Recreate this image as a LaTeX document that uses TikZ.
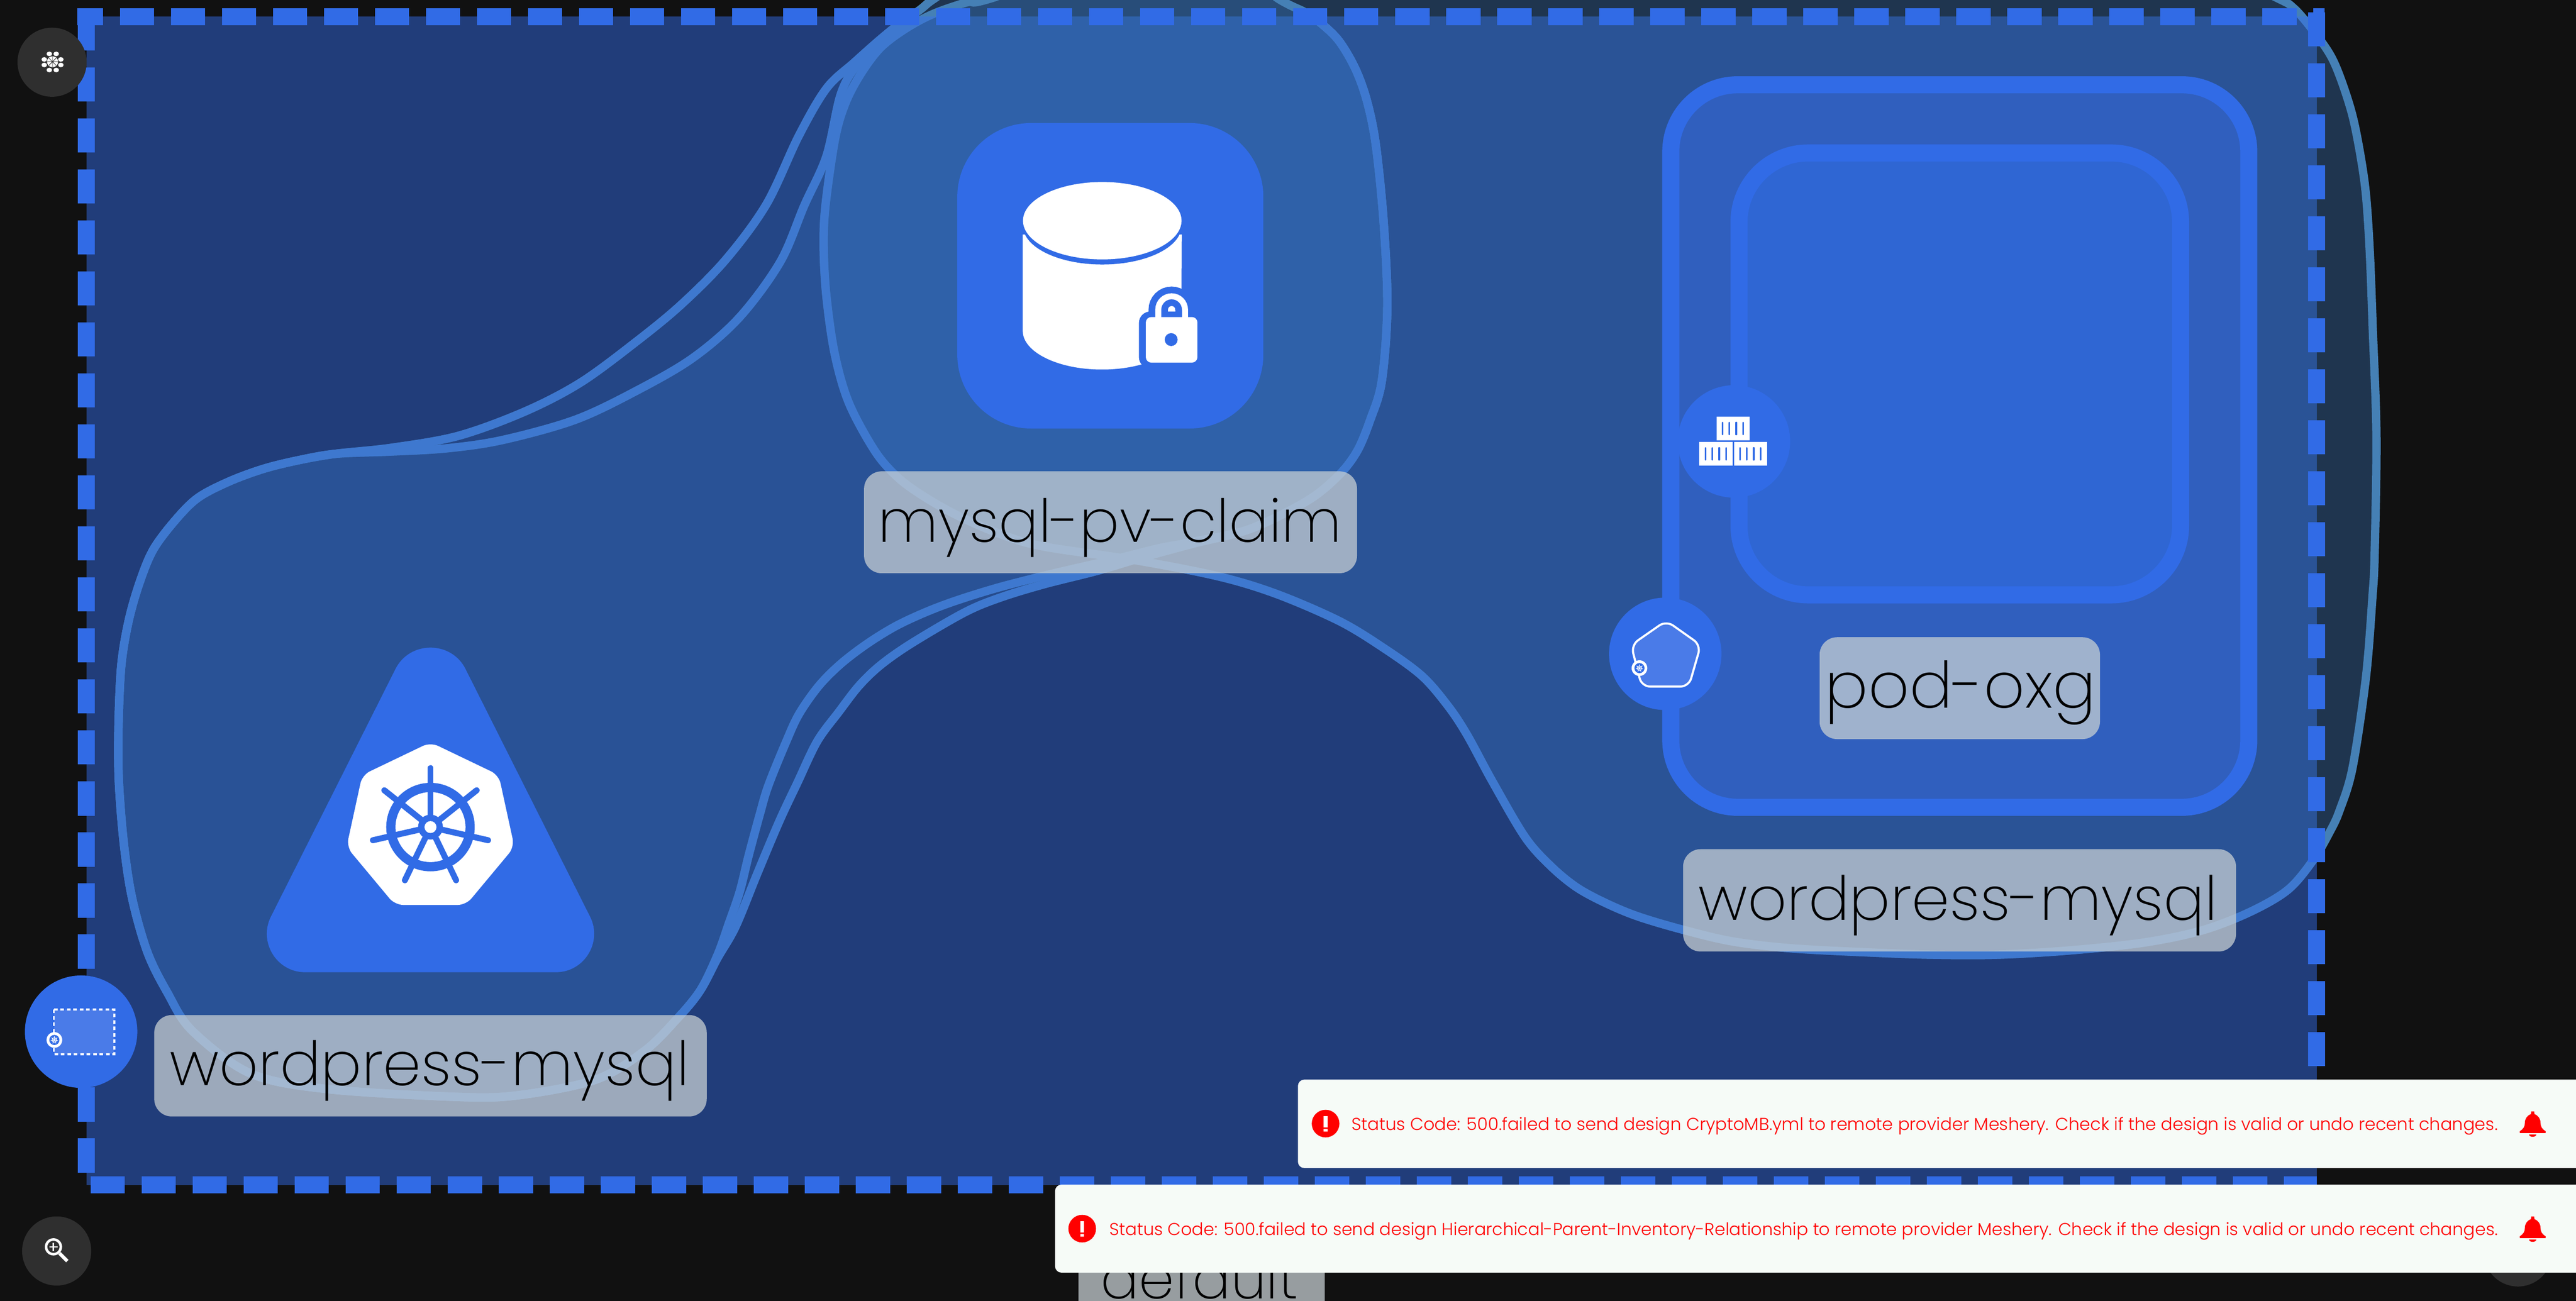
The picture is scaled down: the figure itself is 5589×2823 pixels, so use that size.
\documentclass[tikz,border=0pt]{standalone}
\usepackage{fontspec}
\usepackage{graphicx}
\newfontfamily\lblfont{Poppins ExtraLight}
\newfontfamily\toastfont{Poppins Light}
\definecolor{pagebg}{HTML}{111111}
\definecolor{nsfill}{HTML}{213D7A}
\definecolor{meshblue}{HTML}{316BE6}
\definecolor{blobfill}{HTML}{3D82D4}
\definecolor{blobin}{HTML}{3E78CF}
\definecolor{blobout}{HTML}{4580B5}
\definecolor{depfill}{HTML}{305FBE}
\definecolor{podfill}{HTML}{2F66D3}
\definecolor{lblfill}{HTML}{C7CFD3}
\definecolor{btn}{HTML}{2F2F2F}
\definecolor{toastbg}{HTML}{F6FBF7}
\definecolor{lighticon}{HTML}{4A7BE8}
\tikzset{
  sidedash/.style={draw=meshblue,line width=0.37cm,dash pattern=on 0.74cm off 0.366cm},
  blobline/.style={line width=0.18cm},
  lblbox/.style={draw=none,fill=lblfill,fill opacity=0.74,rectangle,rounded corners=0.38cm,inner sep=0pt},
  lbltext/.style={anchor=base,inner sep=0pt,text=black,font=\lblfont\fontsize{38pt}{40pt}\selectfont},
  toasttext/.style={anchor=base east,inner sep=0pt,text=red,font=\toastfont\fontsize{11pt}{13pt}\selectfont},
  toastbox/.style={fill=toastbg,rounded corners=0.14cm},
  nestbox/.style={draw=meshblue,line width=0.37cm},
  bellicon/.pic={
    \fill[red] (-3,-27) -- (3,-27) -- (4,-21) .. controls (12,-18) and (17,-11) .. (17,-2)
      .. controls (17,6) and (20,11) .. (28,16) -- (28,20) -- (-28,20) -- (-28,16)
      .. controls (-20,11) and (-17,6) .. (-17,-2) .. controls (-17,-11) and (-12,-18) .. (-4,-21) -- cycle;
    \fill[red] (-8,23) .. controls (-7,30) and (7,30) .. (8,23) -- cycle;
  },
  erricon/.pic={
    \fill[red] (0,0) circle [radius=30];
    \fill[white] (-4,-16) rectangle (4,8);
    \fill[white] (-4,12) rectangle (4,17);
  },
  kbadge/.pic={
    \fill[white] (0,0) circle [radius=17];
    \fill[meshblue] (0,0) circle [radius=11];
    \foreach \a in {-90,-38.6,12.9,64.3,115.7,167.1,218.6}
      \draw[white,line width=0.012cm] (0,0) -- (\a:8);
    \draw[white,line width=0.012cm] (0,0) circle [radius=5];
  },
  stackbox/.pic={
    \fill[white] (0,0) rectangle (72,52);
    \foreach \d in {13,28,43,58}
      \draw[meshblue,line width=0.035cm,line cap=round] (\d,13) -- (\d,39);
  }
}
\def\blobA{plot[smooth cycle,tension=0.55] coordinates {(2030,-5)(1995,22)(1926,72)(1854,135)(1793,192)(1733,295)(1663,443)(1575,563)(1478,661)(1381,741)(1260,830)(1139,893)(994,946)(848,972)(727,985)(642,1000)(570,1018)(497,1045)(430,1080)(382,1127)(333,1192)(303,1264)(279,1348)(263,1446)(257,1582)(258,1698)(269,1834)(287,1951)(320,2067)(363,2154)(417,2237)(542,2329)(705,2363)(976,2380)(1116,2378)(1290,2344)(1398,2281)(1470,2210)(1519,2150)(1557,2072)(1581,2005)(1605,1935)(1624,1858)(1648,1769)(1667,1705)(1706,1609)(1734,1549)(1777,1488)(1825,1440)(1883,1396)(1945,1358)(2012,1327)(2079,1302)(2170,1274)(2280,1246)(2418,1214)(2514,1190)(2588,1176)(2712,1148)(2836,1087)(2903,1033)(2944,980)(2973,911)(2998,827)(3010,666)(3002,482)(2985,314)(2966,220)(2941,150)(2906,90)(2869,53)(2832,27)(2778,0)(2650,-80)(2400,-110)(2150,-80)}}
\def\blobB{plot[smooth cycle,tension=0.55] coordinates {(2030,-5)(1995,22)(1926,72)(1860,140)(1824,205)(1793,339)(1745,446)(1693,568)(1605,688)(1503,777)(1381,848)(1248,911)(1090,955)(969,973)(848,980)(727,985)(642,1000)(570,1018)(497,1045)(430,1080)(382,1127)(333,1192)(303,1264)(279,1348)(263,1446)(257,1582)(258,1698)(269,1834)(287,1951)(320,2067)(363,2154)(417,2237)(542,2329)(705,2363)(976,2380)(1116,2378)(1290,2344)(1398,2281)(1470,2210)(1519,2150)(1557,2079)(1596,2011)(1643,1896)(1691,1782)(1730,1699)(1773,1609)(1820,1545)(1864,1488)(1911,1443)(1978,1396)(2093,1329)(2170,1297)(2265,1268)(2380,1239)(2471,1212)(2588,1180)(2712,1148)(2836,1087)(2903,1033)(2944,980)(2973,911)(2998,827)(3010,666)(3002,482)(2985,314)(2966,220)(2941,150)(2906,90)(2869,53)(2832,27)(2778,0)(2650,-80)(2400,-110)(2150,-80)}}
\def\blobC{plot[smooth cycle,tension=0.55] coordinates {(2155,-5)(2098,5)(2025,30)(1965,62)(1911,103)(1869,158)(1835,222)(1812,300)(1791,446)(1787,536)(1793,643)(1811,768)(1842,875)(1899,980)(1949,1037)(2007,1079)(2082,1121)(2173,1160)(2264,1186)(2471,1217)(2648,1252)(2772,1290)(2906,1348)(3000,1405)(3084,1466)(3140,1530)(3182,1593)(3238,1696)(3309,1817)(3365,1880)(3421,1926)(3484,1960)(3554,1989)(3652,2018)(3758,2043)(3884,2058)(4052,2067)(4193,2072)(4333,2072)(4487,2063)(4649,2046)(4775,2020)(4880,1980)(4964,1931)(5020,1865)(5055,1805)(5076,1759)(5104,1667)(5133,1472)(5147,1300)(5152,1206)(5156,947)(5148,714)(5141,536)(5131,402)(5110,277)(5089,201)(5061,129)(5026,76)(4977,18)(4929,-10)(4700,-120)(3600,-220)(2500,-120)}}
\begin{document}
\begin{tikzpicture}[x=0.01cm,y=-0.01cm]
\useasboundingbox (0,0) rectangle (5589,2823);
\clip (0,0) rectangle (5589,2823);
\fill[pagebg] (0,0) rectangle (5589,2823);
% namespace area
\fill[nsfill] (188,36) rectangle (5027,2572);
% bubble sets
\fill[blobfill,opacity=0.14] \blobA;
\fill[blobfill,opacity=0.21] \blobB;
\fill[blobfill,opacity=0.32] \blobC;
\draw[blobout,blobline] \blobA;
\draw[blobout,blobline] \blobB;
\draw[blobout,blobline] \blobC;
\begin{scope}
  \clip (188,36) rectangle (5027,2572);
  \draw[blobin,blobline] \blobA;
  \draw[blobin,blobline] \blobB;
  \draw[blobin,blobline] \blobC;
\end{scope}
% dashed border
\draw[sidedash,dash phase=0.18cm] (168,36.5) -- (5044,36.5);
\draw[sidedash] (187,36) -- (187,2571);
\draw[sidedash] (5026,27) -- (5026,2571);
\draw[sidedash] (197,2571) -- (5027,2571);
% deployment and pod boxes
\draw[nestbox,fill=depfill,rounded corners=1.45cm] (3625,184) rectangle (4879,1752);
\draw[nestbox,fill=podfill,rounded corners=1.5cm] (3773,332) rectangle (4731,1291);
% container circle
\fill[meshblue] (3762,958) circle [radius=122];
\pic at (3724,904) {stackbox};
\pic at (3687,959) {stackbox};
\pic at (3762,959) {stackbox};
% pod circle
\fill[meshblue] (3613,1419) circle [radius=122];
\draw[white,line width=0.045cm,fill=lighticon,rounded corners=0.18cm] (3615,1347) -- (3690,1400) -- (3664,1490) -- (3562,1490) -- (3539,1400) -- cycle;
\pic at (3557,1450) {kbadge};
% group circle
\fill[meshblue] (176,2239) circle [radius=122];
\draw[white,line width=0.04cm,fill=lighticon,dash pattern=on 0.08cm off 0.06cm] (117,2191) rectangle (248,2288);
\pic at (118,2257) {kbadge};
% PVC icon
\fill[meshblue,rounded corners=1.6cm] (2077,267) rectangle (2741,930);
\fill[white] (2219,509) -- (2219,718) arc [start angle=180,end angle=360,x radius=172,y radius=-84] -- (2564,509) -- cycle;
\begin{scope}
  \clip (2219,400) rectangle (2564,600);
  \fill[meshblue] (2391.5,490) ellipse [x radius=172,y radius=84];
\end{scope}
\fill[white] (2391.5,479) ellipse [x radius=172,y radius=84];
\fill[meshblue,rounded corners=0.25cm] (2471,676) rectangle (2612,800);
\draw[meshblue,line width=0.42cm] (2513,700) -- (2513,672) arc [start angle=180,end angle=360,x radius=29,y radius=29] -- (2571,700);
\fill[white,rounded corners=0.12cm] (2486,688) rectangle (2598,787);
\draw[white,line width=0.13cm] (2513,695) -- (2513,672) arc [start angle=180,end angle=360,x radius=29,y radius=29] -- (2571,695);
\fill[meshblue] (2541,737) circle [radius=14];
% deployment triangle
\fill[meshblue] (858,1452) .. controls (889,1390) and (979,1390) .. (1010,1452) -- (1280,1989) .. controls (1308,2044) and (1268,2110) .. (1206,2110) -- (662,2110) .. controls (600,2110) and (560,2044) .. (588,1989) -- cycle;
\fill[white,rounded corners=0.18cm] (934,1611) -- (1082,1682) -- (1116,1838) -- (1011,1964) -- (857,1964) -- (752,1838) -- (786,1682) -- cycle;
\begin{scope}[shift={(934,1795)}]
  \draw[meshblue,line width=0.2cm] (0,0) circle [radius=86];
  \foreach \a in {-90,-38.57,12.86,64.29,115.71,167.14,218.57}{
    \draw[meshblue,line width=0.13cm,line cap=round] (\a:20) -- (\a:128);
    \fill[meshblue] (\a-14:22) -- (\a:72) -- (\a+14:22) -- cycle;
  }
  \fill[meshblue] (0,0) circle [radius=27];
  \fill[white] (0,0) circle [radius=13];
\end{scope}
% labels
\node[lblbox,minimum width=11.98cm,minimum height=2.2cm] (lblsvc) at (934,2313) {};
\node[lbltext] (txtsvc) at (932,2356) {\resizebox{11.27cm}{!}{wordpress-mysql}};
\node[lblbox,minimum width=10.69cm,minimum height=2.21cm] (lblpvc) at (2409.5,1133.5) {};
\node[lbltext] (txtpvc) at (2408,1177) {\resizebox{10.05cm}{!}{mysql-pv-claim}};
\node[lblbox,minimum width=6.08cm,minimum height=2.21cm] (lblpod) at (4252,1493.5) {};
\node[lbltext] (txtpod) at (4254,1536) {\resizebox{5.87cm}{!}{pod-oxg}};
\node[lblbox,minimum width=11.99cm,minimum height=2.22cm] (lbldep) at (4251.5,1954) {};
\node[lbltext] (txtdep) at (4248,1997) {\resizebox{11.25cm}{!}{wordpress-mysql}};
\node[lblbox,minimum width=5.34cm,minimum height=2.2cm] (lblns) at (2607,2775) {};
\node[lbltext] (txtns) at (2602,2818) {\resizebox{4.28cm}{!}{default}};
% buttons
\fill[btn] (113,135) circle [radius=75];
\fill[white] (114,134) circle [radius=12];
\draw[btn,line width=0.01cm] (106,126) -- (122,142) (122,126) -- (106,142) (114,122) -- (114,146) (102,134) -- (126,134);
\foreach \px/\py in {107/117,122/117,96/129,132/129,96/141,132/141,107/152,122/152}
  \fill[white] (\px,\py) ellipse [x radius=6,y radius=5];
\fill[btn] (123,2715) circle [radius=75];
\draw[white,line width=0.055cm] (116,2706) circle [radius=16];
\draw[white,line width=0.03cm] (107,2706) -- (125,2706) (116,2697) -- (116,2715);
\draw[white,line width=0.075cm] (129,2720) -- (146,2737);
\fill[btn] (5463,2718) circle [radius=74];
% toasts
\fill[toastbox] (2816,2343) rectangle (5640,2535);
\pic at (2876,2438.5) {erricon};
\node[toasttext] (toastone) at (5420,2453) {\resizebox{24.85cm}{!}{Status Code: 500.failed to send design CryptoMB.yml to remote provider Meshery. Check if the design is valid or undo recent changes.}};
\pic at (5495,2439) {bellicon};
\fill[toastbox] (2289,2571) rectangle (5640,2762);
\pic at (2348,2666.5) {erricon};
\node[toasttext] (toasttwo) at (5420,2681) {\resizebox{30.1cm}{!}{Status Code: 500.failed to send design Hierarchical-Parent-Inventory-Relationship to remote provider Meshery. Check if the design is valid or undo recent changes.}};
\pic at (5495,2667) {bellicon};
\end{tikzpicture}
\end{document}
